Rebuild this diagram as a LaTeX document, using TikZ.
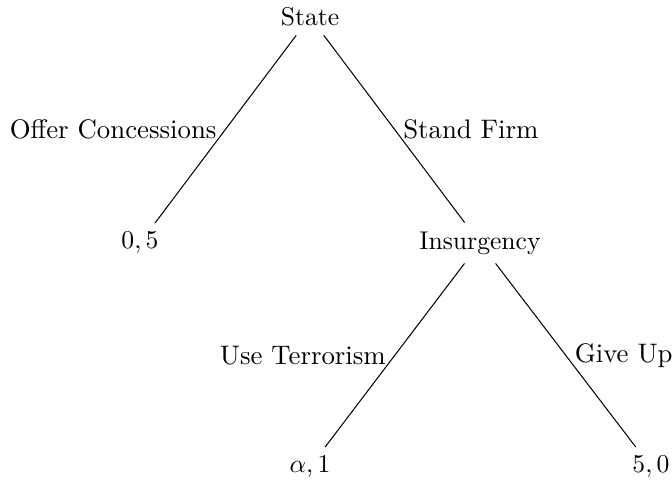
\documentclass[tikz,border=0pt]{standalone}
\begin{document}
\begin{tikzpicture}[x=0.39pt,y=-0.39pt,
  gnode/.style={inner sep=0.3333em},
  elabel/.style={font=\fontsize{10.45}{12.5}\selectfont},
  edge/.style={draw=black,line width=0.4pt}]
\useasboundingbox (0,0) rectangle (672,486);
\node[gnode] (s) at (310,17) {State};
\node[gnode] (a) at (140,243) {$0,5$};
\node[gnode] (i) at (480,243) {Insurgency};
\node[gnode] (b) at (310,467) {$\alpha,1$};
\node[gnode] (c) at (651,467) {$5,0$};
\draw[edge] (s) -- node[elabel,left] {Offer Concessions} (a);
\draw[edge] (s) -- node[elabel,right] {Stand Firm} (i);
\draw[edge] (i) -- node[elabel,left] {Use Terrorism} (b);
\draw[edge] (i) -- node[elabel,right] {Give Up} (c);
\end{tikzpicture}
\end{document}
